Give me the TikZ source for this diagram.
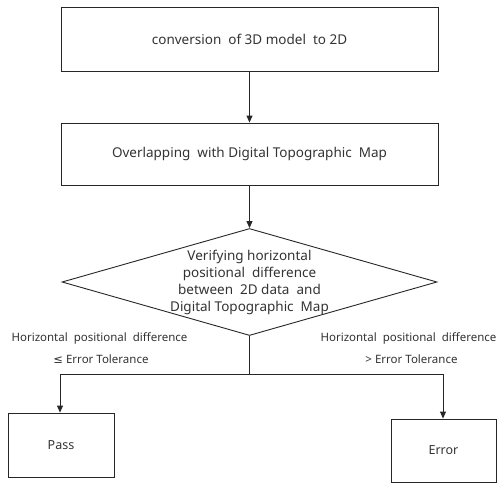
\documentclass[tikz,border=0pt]{standalone}
\usepackage{fontspec}
\setmainfont{Noto Sans}
\newfontfamily\symfont{DejaVu Sans}
\usetikzlibrary{shapes.geometric,arrows.meta}
\begin{document}
\begin{tikzpicture}[x=1pt,y=-1pt,
  line/.style={draw=black!85, line width=0.9pt},
  box/.style={line, inner sep=0pt, text=black!80, font=\fontsize{13.5}{16}\selectfont},
  flow/.style={line, -{Triangle[width=6pt,length=7pt]}},
  cond/.style={inner sep=0pt, text=black!80, font=\fontsize{11.5}{13}\selectfont}]
\useasboundingbox (0,0) rectangle (498,483);

% main steps
\node[box, minimum width=377pt, minimum height=64pt] (conv) at (249.5,39) {conversion\ \ of\ 3D model\ \ to\ 2D};
\node[box, minimum width=377pt, minimum height=62pt] (overlap) at (249.5,154) {Overlapping\ \ with Digital Topographic\ \ Map};
\node[box, diamond, aspect=3.5, minimum width=375pt, minimum height=107pt,
      inner sep=-30pt, align=center, font=\fontsize{13.5}{17}\selectfont] (verify) at (249.5,282)
  {Verifying horizontal\\positional\ \ difference\\between\ \ 2D data\ \ and\\Digital Topographic\ \ Map};

% outcomes
\node[box, minimum width=106pt, minimum height=64pt, font=\fontsize{12.5}{15}\selectfont] (pass) at (61,445) {Pass};
\node[box, minimum width=105pt, minimum height=63pt, font=\fontsize{12.5}{15}\selectfont] (err) at (443.5,450.5) {Error};

% branch points
\coordinate (split) at (249.5,374);
\coordinate (lsplit) at (60,374);
\coordinate (rsplit) at (443,374);

% conditions
\node[cond] (lc1) at (99.5,338) {Horizontal\ \ positional\ \ difference};
\node[cond] (lc2) at (101,359) {{\symfont ≤}\ Error\ Tolerance};
\node[cond] (rc1) at (408.5,338) {Horizontal\ \ positional\ \ difference};
\node[cond] (rc2) at (411.5,359) {>\ Error\ Tolerance};

% connectors
\draw[flow] (conv) -- (overlap);
\draw[flow] (overlap) -- (verify);
\draw[line] (verify.south) -- (split);
\draw[line] (lsplit) -- (rsplit);
\draw[flow] (lsplit) -- (lsplit |- pass.north);
\draw[flow] (rsplit) -- (rsplit |- err.north);
\end{tikzpicture}
\end{document}
